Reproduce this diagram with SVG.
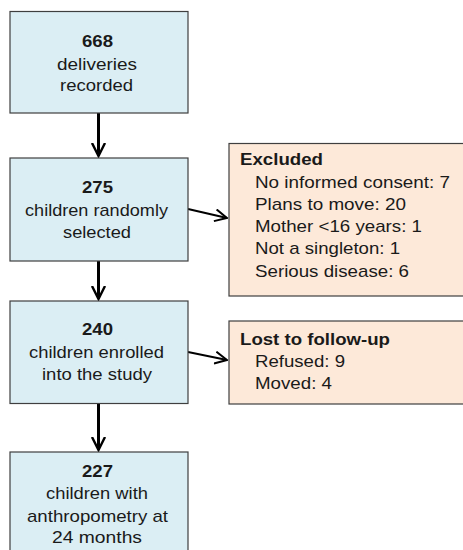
<svg xmlns="http://www.w3.org/2000/svg" width="463" height="550" viewBox="0 0 463 550">
<style>
.main{fill:#DBEEF4;stroke:#3F3F3F;stroke-width:1.2}
.side{fill:#FDE9D9;stroke:#3F3F3F;stroke-width:1.2}
text{font-family:"Liberation Sans",Arial,sans-serif;font-size:17px;fill:#1a1a1a}
.b{font-weight:bold}
.conn{stroke:#000;stroke-width:3;fill:none}
.conn2{stroke:#000;stroke-width:2;fill:none}
</style>
<defs>
<marker id="ah" viewBox="0 0 10 10" refX="9" refY="5" markerWidth="5" markerHeight="5" orient="auto" markerUnits="strokeWidth">
<path d="M1,1 L9,5 L1,9" fill="none" stroke="#000" stroke-width="1.6" stroke-linecap="square"/>
</marker>
<marker id="ah2" viewBox="0 0 10 10" refX="9" refY="5" markerWidth="7" markerHeight="7" orient="auto" markerUnits="strokeWidth">
<path d="M1,1 L9,5 L1,9" fill="none" stroke="#000" stroke-width="1.4" stroke-linecap="square"/>
</marker>
</defs>
<g id="connectors">
<line class="conn" x1="98.5" y1="113" x2="98.5" y2="156" marker-end="url(#ah)"/>
<line class="conn" x1="98.5" y1="261" x2="98.5" y2="299" marker-end="url(#ah)"/>
<line class="conn" x1="98.5" y1="404" x2="98.5" y2="450" marker-end="url(#ah)"/>
<line class="conn2" x1="188" y1="209" x2="227" y2="218" marker-end="url(#ah2)"/>
<line class="conn2" x1="188" y1="352" x2="227" y2="360" marker-end="url(#ah2)"/>
</g>
<g id="n668">
<rect class="main" x="10" y="11.5" width="178" height="101.5"/>
<text class="b" x="82" y="47" textLength="31" lengthAdjust="spacingAndGlyphs">668</text>
<text x="57" y="70" textLength="80" lengthAdjust="spacingAndGlyphs">deliveries</text>
<text x="60" y="91" textLength="73" lengthAdjust="spacingAndGlyphs">recorded</text>
</g>
<g id="n275">
<rect class="main" x="10" y="158" width="178" height="103"/>
<text class="b" x="82" y="193" textLength="31" lengthAdjust="spacingAndGlyphs">275</text>
<text x="25" y="216" textLength="143" lengthAdjust="spacingAndGlyphs">children randomly</text>
<text x="63" y="238" textLength="68" lengthAdjust="spacingAndGlyphs">selected</text>
</g>
<g id="excluded">
<rect class="side" x="229" y="143.5" width="240" height="152.5"/>
<text class="b" x="240" y="165" textLength="83" lengthAdjust="spacingAndGlyphs">Excluded</text>
<text x="255" y="188" textLength="195" lengthAdjust="spacingAndGlyphs">No informed consent: 7</text>
<text x="255" y="210" textLength="151" lengthAdjust="spacingAndGlyphs">Plans to move: 20</text>
<text x="255" y="232" textLength="167" lengthAdjust="spacingAndGlyphs">Mother &lt;16 years: 1</text>
<text x="255" y="254" textLength="145" lengthAdjust="spacingAndGlyphs">Not a singleton: 1</text>
<text x="255" y="277" textLength="154" lengthAdjust="spacingAndGlyphs">Serious disease: 6</text>
</g>
<g id="n240">
<rect class="main" x="10" y="301" width="178" height="102.5"/>
<text class="b" x="82" y="335" textLength="31" lengthAdjust="spacingAndGlyphs">240</text>
<text x="29" y="358" textLength="135" lengthAdjust="spacingAndGlyphs">children enrolled</text>
<text x="42" y="380" textLength="110" lengthAdjust="spacingAndGlyphs">into the study</text>
</g>
<g id="lost">
<rect class="side" x="229" y="321" width="240" height="83"/>
<text class="b" x="240" y="345" textLength="150" lengthAdjust="spacingAndGlyphs">Lost to follow-up</text>
<text x="255" y="367" textLength="90" lengthAdjust="spacingAndGlyphs">Refused: 9</text>
<text x="255" y="389" textLength="77" lengthAdjust="spacingAndGlyphs">Moved: 4</text>
</g>
<g id="n227">
<rect class="main" x="10" y="452" width="178" height="110"/>
<text class="b" x="82" y="477" textLength="31" lengthAdjust="spacingAndGlyphs">227</text>
<text x="46" y="499" textLength="102" lengthAdjust="spacingAndGlyphs">children with</text>
<text x="27" y="522" textLength="141" lengthAdjust="spacingAndGlyphs">anthropometry at</text>
<text x="52" y="543" textLength="90" lengthAdjust="spacingAndGlyphs">24 months</text>
</g>
</svg>
